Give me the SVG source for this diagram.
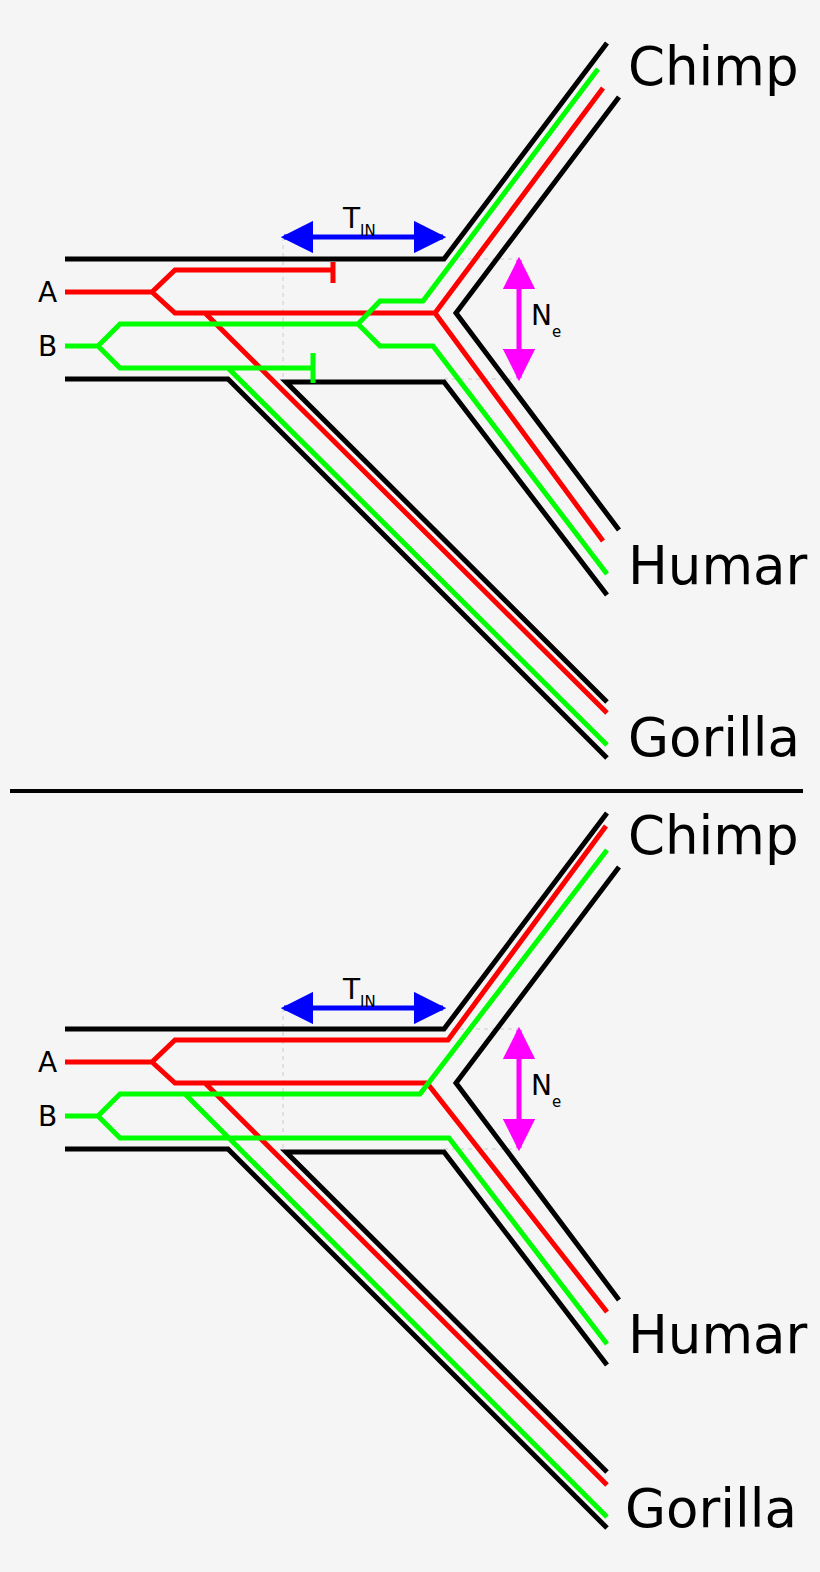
<svg xmlns="http://www.w3.org/2000/svg" width="820" height="1572" viewBox="0 0 820 1572">
<defs>
<style>
.k{stroke:#000;stroke-width:5;fill:none}
.r{stroke:#f00;stroke-width:5;fill:none}
.g{stroke:#0f0;stroke-width:5;fill:none}
.d{stroke:#ccc;stroke-width:1;stroke-dasharray:4 4;fill:none}
.b{stroke:#00f;stroke-width:5}
.m{stroke:#f0f;stroke-width:5}
text{font-family:"DejaVu Sans",sans-serif;fill:#000}
.big{font-size:53px}
.lab{font-size:28px}
</style>
<marker id="ab" viewBox="0 0 10 10" refX="9" refY="5" markerWidth="6.5" markerHeight="6.5" orient="auto-start-reverse" markerUnits="strokeWidth"><path d="M0,0L10,5L0,10z" fill="#00f"/></marker>
<marker id="am" viewBox="0 0 10 10" refX="9" refY="5" markerWidth="6.5" markerHeight="6.5" orient="auto-start-reverse" markerUnits="strokeWidth"><path d="M0,0L10,5L0,10z" fill="#f0f"/></marker>
</defs>
<rect width="820" height="1572" fill="#f5f5f5"/>
<line x1="10" y1="791" x2="803" y2="791" stroke="#000" stroke-width="4"/>
<g id="top">
<path class="d" d="M283,237V379M444,259H519M444,379H519"/>
<path class="k" d="M65,259H444L607,43M619,97L456,313L619,530M65,379H228L607,758M607,702L286,382H444L607,595"/>
<path class="r" d="M65,292H152L175,270H333M333,262V283M152,292L175,313H435L603,88M435,313L603,541M205,313L607,713"/>
<path class="g" d="M65,346H98L120,324H358L380,301H423L598,69M358,324L380,346H433L607,574M98,346L120,368H313M313,353V383M228,368L607,745"/>
<line class="b" x1="284" y1="237" x2="443" y2="237" marker-start="url(#ab)" marker-end="url(#ab)"/>
<line class="m" x1="519" y1="260" x2="519" y2="378" marker-start="url(#am)" marker-end="url(#am)"/>
<text x="343" y="228" font-size="28">T<tspan font-size="15" dy="8">IN</tspan></text>
<text x="531" y="325" font-size="28">N<tspan font-size="15" dy="12">e</tspan></text>
<text class="lab" x="38" y="302">A</text>
<text class="lab" x="38" y="356">B</text>
<text class="big" x="628" y="85">Chimp</text>
<text class="big" x="628" y="584">Humar</text>
<text class="big" x="628" y="756">Gorilla</text>
</g>
<g id="bottom">
<path class="d" d="M283,1008V1149M444,1029H519M444,1149H519"/>
<path class="k" d="M65,1029H444L607,813M619,867L456,1083L619,1300M65,1149H228L607,1528M607,1472L286,1152H444L607,1365"/>
<path class="r" d="M65,1062H152L175,1040H448L606,826M152,1062L175,1083H427L607,1312M205,1083L607,1485"/>
<path class="g" d="M65,1116H98L120,1094H420L607,850M98,1116L120,1138H449L607,1344M185,1094L607,1517"/>
<line class="b" x1="284" y1="1008" x2="443" y2="1008" marker-start="url(#ab)" marker-end="url(#ab)"/>
<line class="m" x1="519" y1="1030" x2="519" y2="1148" marker-start="url(#am)" marker-end="url(#am)"/>
<text x="343" y="999" font-size="28">T<tspan font-size="15" dy="8">IN</tspan></text>
<text x="531" y="1095" font-size="28">N<tspan font-size="15" dy="12">e</tspan></text>
<text class="lab" x="38" y="1072">A</text>
<text class="lab" x="38" y="1126">B</text>
<text class="big" x="628" y="854">Chimp</text>
<text class="big" x="628" y="1353">Humar</text>
<text class="big" x="625" y="1527">Gorilla</text>
</g>
</svg>
